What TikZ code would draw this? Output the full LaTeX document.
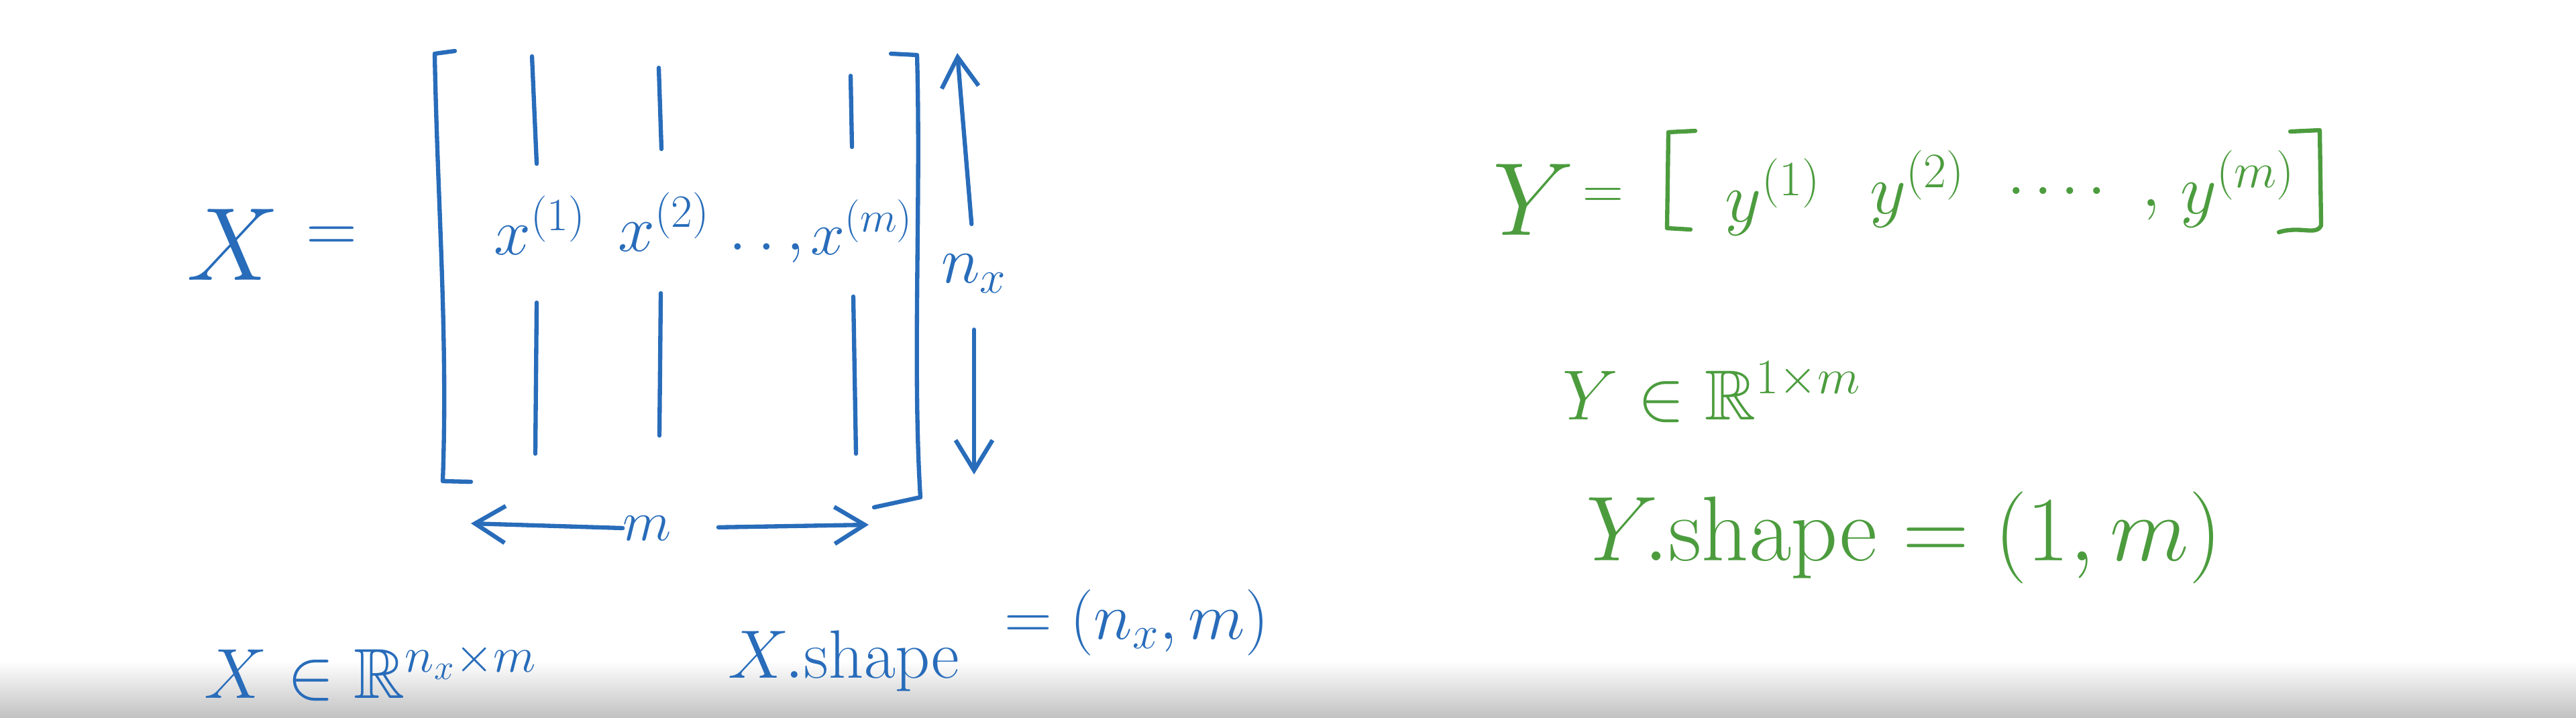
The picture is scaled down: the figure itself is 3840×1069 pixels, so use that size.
\RequirePackage{fix-cm}
\documentclass[tikz,border=0pt]{standalone}
\usepackage{amssymb}
\usetikzlibrary{arrows.meta}
\definecolor{penblue}{RGB}{40,108,186}
\definecolor{pengreen}{RGB}{76,156,62}
\newcommand{\penfs}[1]{\fontsize{#1pt}{#1pt}\selectfont}
\tikzset{
  bluepen/.style={draw=penblue, line width=1.8pt, line cap=round, line join=round},
  greenpen/.style={draw=pengreen, line width=1.8pt, line cap=round, line join=round},
  bluetxt/.style={text=penblue, inner sep=0pt},
  greentxt/.style={text=pengreen, inner sep=0pt},
  handtip/.style={-{Straight Barb[length=4.5mm,width=5.5mm]}},
}
\begin{document}
\begin{tikzpicture}[x=0.01cm, y=-0.01cm]
\useasboundingbox (0,0) rectangle (3840,1069);
\shade[top color=white, bottom color=gray!48] (0,985) rectangle (3840,1069);

% X = [ x(1) x(2) ... x(m) ]
\node[bluetxt, font=\penfs{44}, anchor=base] (Xlhs) at (347,417) {$X$};
\node[bluetxt, font=\penfs{30}] (eqX) at (494,357) {$=$};
\draw[bluepen] (678,76) -- (648,80) .. controls (652,300) and (668,500) .. (660,717) -- (702,718);
\draw[bluepen] (1328,80) -- (1367,82) .. controls (1373,300) and (1360,550) .. (1372,741) -- (1303,756);
\draw[bluepen] (793,84) -- (800,244);
\draw[bluepen] (800,451) -- (798,676);
\draw[bluepen] (982,101) -- (986,222);
\draw[bluepen] (985,437) -- (983,649);
\draw[bluepen] (1268,113) -- (1270,219);
\draw[bluepen] (1272,442) -- (1276,676);
\node[bluetxt, font=\penfs{28}, anchor=base] (x1) at (805,379) {$x^{(1)}$};
\node[bluetxt, font=\penfs{28}, anchor=base] (x2) at (990,374) {$x^{(2)}$};
\node[bluetxt, font=\penfs{28}, anchor=base] (xdots) at (1143,372) {$.\,.\,,$};
\node[bluetxt, font=\penfs{26}, anchor=base] (xm) at (1285,379) {$x^{(m)}$};

% n_x and m arrows
\node[bluetxt, font=\penfs{28}] (nx) at (1452,408) {$n_x$};
\coordinate (nxtop) at (1427,79);
\coordinate (nxbot) at (1452,707);
\draw[bluepen, handtip, shorten <=0.45cm] (nx.north) -- (nxtop);
\draw[bluepen, handtip, shorten <=0.54cm] (nx.south) -- (nxbot);
\node[bluetxt, font=\penfs{24}] (m) at (965,787) {$m$};
\coordinate (mleft) at (702,780);
\coordinate (mright) at (1295,782);
\draw[bluepen, handtip] (m.west) -- (mleft);
\draw[bluepen, handtip, shorten <=0.69cm] (m.east) -- (mright);

% X in R, X.shape
\node[bluetxt, font=\penfs{30}, anchor=base west] (XinR) at (304,1040) {$X\in\mathbb{R}^{n_x\times m}$};
\node[bluetxt, font=\penfs{29}, anchor=base west] (Xshape) at (1085,1010) {$X.\mathrm{shape}$};
\node[bluetxt, font=\penfs{28}, anchor=base west] (Xshapeval) at (1497,952) {$=(n_x,m)$};

% Y = [ y(1) y(2) ...., y(m) ]
\node[greentxt, font=\penfs{44}, anchor=base] (Ylhs) at (2286,350) {$Y$};
\node[greentxt, font=\penfs{24}] (eqY) at (2390,295) {$=$};
\draw[greenpen] (2527,195) -- (2487,197) -- (2485,340) -- (2520,342);
\draw[greenpen] (3414,196) -- (3458,194) -- (3460,336) .. controls (3452,352) and (3430,336) .. (3397,346);
\node[greentxt, font=\penfs{30}, anchor=base] (y1) at (2643,330) {$y^{(1)}$};
\node[greentxt, font=\penfs{30}, anchor=base] (y2) at (2858,318) {$y^{(2)}$};
\node[greentxt, font=\penfs{30}] (ydots) at (3066,284) {$.\mkern2mu.\mkern2mu.\mkern2mu.$};
\node[greentxt, font=\penfs{30}] (ycomma) at (3207,313) {$,$};
\node[greentxt, font=\penfs{30}, anchor=base] (ym) at (3336,318) {$y^{(m)}$};

% Y in R, Y.shape
\node[greentxt, font=\penfs{30}, anchor=base west] (YinR) at (2329,625) {$Y\in\mathbb{R}^{1\times m}$};
\node[greentxt, font=\penfs{39}, anchor=base west] (Yshape) at (2364,835) {$Y.\mathrm{shape}=(1,m)$};
\end{tikzpicture}
\end{document}
